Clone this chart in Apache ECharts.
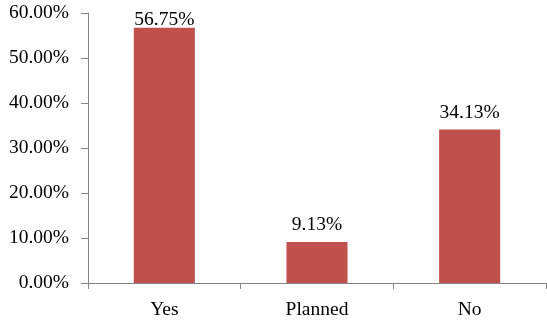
<!DOCTYPE html>
<html>
<head>
<meta charset="utf-8">
<script src="https://cdn.jsdelivr.net/npm/echarts@6/dist/echarts.min.js"></script>
<style>
  html, body { margin: 0; padding: 0; background: #fff; }
  #chart { width: 547px; height: 320px; }
</style>
</head>
<body>
<div id="chart"></div>
<script>
// Survey responses, share of respondents (%)
const categories = ['Yes', 'Planned', 'No'];
const shares = [56.75, 9.13, 34.13];
const yTicks = { min: 0, max: 60, interval: 10 };

const font = '"Liberation Serif", "Times New Roman", serif';
const axisGray = '#868686';
const textSize = 19.5;

// The tallest bar's label sits tight against the bar so it stays inside the plot.
const barData = shares.map((v, i) => ({
  value: v,
  label: { distance: v === Math.max(...shares) ? -2 : 7 }
}));

const chart = echarts.init(document.getElementById('chart'));
chart.setOption({
  animation: false,
  grid: { left: 88, right: 1, top: 13, bottom: 37 },
  xAxis: {
    type: 'category',
    data: categories,
    axisLine: { lineStyle: { color: axisGray, width: 1 } },
    axisTick: { show: true, length: 6, lineStyle: { color: axisGray } },
    axisLabel: { color: '#000', fontFamily: font, fontSize: textSize, margin: 17 }
  },
  yAxis: {
    type: 'value',
    min: yTicks.min,
    max: yTicks.max,
    interval: yTicks.interval,
    axisLine: { show: true, lineStyle: { color: axisGray, width: 1 } },
    axisTick: { show: true, length: 7, lineStyle: { color: axisGray } },
    splitLine: { show: false },
    axisLabel: {
      color: '#000', fontFamily: font, fontSize: textSize, margin: 19,
      formatter: v => v.toFixed(2) + '%'
    }
  },
  series: [{
    type: 'bar',
    data: barData,
    barWidth: '40%',
    itemStyle: { color: '#C0504D' },
    label: {
      show: true, position: 'top',
      color: '#000', fontFamily: font, fontSize: textSize,
      formatter: p => p.value.toFixed(2) + '%'
    }
  }]
});
</script>
</body>
</html>
